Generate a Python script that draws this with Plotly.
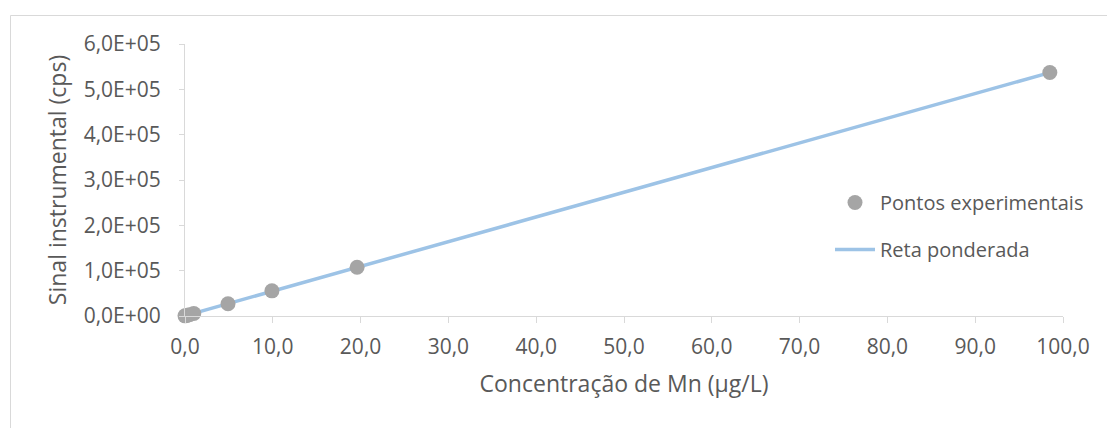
import plotly.graph_objects as go

# Data
conc = [0.0, 0.2, 0.5, 1.0, 4.9, 9.9, 19.6, 98.5]
signal = [300, 1200, 2800, 5400, 27000, 55500, 107500, 537000]

fit_x = [0.0, 98.5]
fit_y = [600, 537000]

x_ticks = [0, 10, 20, 30, 40, 50, 60, 70, 80, 90, 100]
x_ticktext = ["0,0", "10,0", "20,0", "30,0", "40,0", "50,0", "60,0", "70,0", "80,0", "90,0", "100,0"]
y_ticks = [0, 100000, 200000, 300000, 400000, 500000, 600000]
y_ticktext = ["0,0E+00", "1,0E+05", "2,0E+05", "3,0E+05", "4,0E+05", "5,0E+05", "6,0E+05"]

W, H = 1107, 428
L, R, T, B = 185, 44, 44, 112
pw, ph = W - L - R, H - T - B

def px_x(p):
    return (p - L) / pw

def px_y(p):
    return (H - B - p) / ph

text_color = "#595959"
axis_color = "#D9D9D9"
font_family = "Open Sans"

fig = go.Figure()
fig.add_trace(go.Scatter(
    x=fit_x, y=fit_y, mode="lines", name="Reta ponderada",
    line=dict(color="#9DC3E6", width=3.5),
    legendgroup="b", legendrank=2, cliponaxis=False,
))
fig.add_trace(go.Scatter(
    x=conc, y=signal, mode="markers", name="Pontos experimentais",
    marker=dict(color="#A5A5A5", size=15, line=dict(width=0)),
    legendgroup="a", legendrank=1, cliponaxis=False,
))

fig.update_layout(
    width=W, height=H,
    margin=dict(l=L, r=R, t=T, b=B, autoexpand=False),
    paper_bgcolor="white", plot_bgcolor="white",
    font=dict(family=font_family, size=20, color=text_color),
    showlegend=True,
    legend=dict(
        x=px_x(830), y=px_y(183), xanchor="left", yanchor="top",
        bgcolor="rgba(0,0,0,0)", font=dict(size=20, color=text_color),
        tracegroupgap=18, itemwidth=40,
    ),
    xaxis=dict(
        range=[0, 100], tickvals=x_ticks, ticktext=x_ticktext,
        showgrid=False, zeroline=False, showline=True, linecolor=axis_color, linewidth=1,
        ticks="outside", ticklen=6, tickcolor=axis_color, tickwidth=1,
        tickfont=dict(size=21, color=text_color), ticklabelstandoff=6,
        title=dict(text="Concentração de Mn (µg/L)", font=dict(size=23, color=text_color), standoff=16),
    ),
    yaxis=dict(
        range=[0, 600000], tickvals=y_ticks, ticktext=y_ticktext,
        showgrid=False, zeroline=False, showline=True, linecolor=axis_color, linewidth=1,
        ticks="outside", ticklen=5, tickcolor=axis_color, tickwidth=1,
        tickfont=dict(size=21, color=text_color), ticklabelstandoff=14,
        title=dict(text="Sinal instrumental (cps)", font=dict(size=23, color=text_color), standoff=10),
    ),
    shapes=[
        dict(type="line", xref="paper", yref="paper",
             x0=px_x(10.5), x1=px_x(10.5), y0=px_y(15.5), y1=px_y(430),
             line=dict(color=axis_color, width=1)),
        dict(type="line", xref="paper", yref="paper",
             x0=px_x(10.5), x1=px_x(1110), y0=px_y(15.5), y1=px_y(15.5),
             line=dict(color=axis_color, width=1)),
    ],
)

fig.write_html("out.html", config={"displayModeBar": False},
               post_script="document.body.style.margin='0';document.body.style.overflow='hidden';")
